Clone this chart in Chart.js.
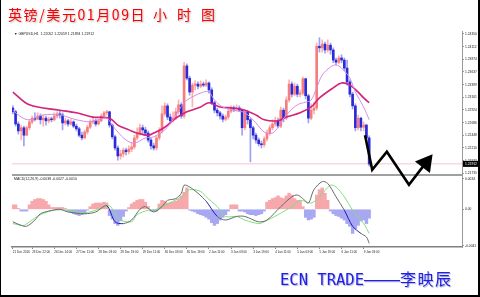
<!DOCTYPE html>
<html lang="zh-CN">
<head>
<meta charset="UTF-8" />
<title>英镑/美元01月09日小时图</title>
<script src="https://cdn.jsdelivr.net/npm/chart.js"></script>
<style>
    html, body { margin: 0; padding: 0; background: #fff; }
    #frame {
        position: relative;
        width: 480px;
        height: 297px;
        box-sizing: border-box;
        border-left: 1px solid #000;
        border-right: 2px solid #000;
        border-bottom: 2px solid #000;
        overflow: hidden;
        background: #fff;
    }
    #chart { position: absolute; left: 0; top: 0; }
    .title {
        position: absolute;
        top: 6px;
        font-family: "Noto Sans CJK SC";
        font-size: 14px;
        line-height: 17px;
        color: #ff0000;
        text-shadow: 1px 1px 2px #b8b8b8;
        white-space: nowrap;
    }
    #sign {
        position: absolute;
        left: 279px;
        top: 268px;
        line-height: 20px;
        color: #1e1ef0;
        text-shadow: 1px 1px 1px #b0b0c8;
        white-space: nowrap;
    }
    #sign .en { font-family: "DejaVu Sans Mono"; font-size: 15.5px; }
    #sign .dash { font-family: "Liberation Sans"; font-size: 18px; }
    #sign .cn { font-family: "Noto Sans CJK SC"; font-size: 16px; letter-spacing: 1.5px; }
</style>
</head>
<body>
<div id="frame">
    <canvas id="chart" width="477" height="295"></canvas>
    <div class="title" style="left:7px; letter-spacing:1.6px;">英镑/美元01月09日</div>
    <div class="title" style="left:152px; letter-spacing:10px;">小时图</div>
    <div id="sign"><span class="en">ECN TRADE</span><span class="dash">——</span><span class="cn">李映辰</span></div>
</div>

<script>
    // H1 candles (one slot = about 2 bars of the original)
    const candleOpen = [
        1.2296, 1.2289, 1.2266, 1.2253, 1.2259, 1.2245, 1.2259, 1.2270, 1.2277, 1.2275,
        1.2281, 1.2274, 1.2277, 1.2272, 1.2275, 1.2274, 1.2281, 1.2285, 1.2283, 1.2268,
        1.2272, 1.2266, 1.2270, 1.2262, 1.2257, 1.2245, 1.2240, 1.2251, 1.2260, 1.2270,
        1.2272, 1.2266, 1.2272, 1.2281, 1.2287, 1.2289, 1.2264, 1.2242, 1.2221, 1.2206,
        1.2210, 1.2217, 1.2214, 1.2219, 1.2223, 1.2240, 1.2249, 1.2259, 1.2255, 1.2249,
        1.2236, 1.2225, 1.2221, 1.2240, 1.2253, 1.2285, 1.2300, 1.2279, 1.2272, 1.2277,
        1.2289, 1.2302, 1.2281, 1.2375, 1.2352, 1.2326, 1.2339, 1.2341, 1.2337, 1.2341,
        1.2339, 1.2343, 1.2330, 1.2306, 1.2292, 1.2287, 1.2281, 1.2275, 1.2279, 1.2290,
        1.2296, 1.2294, 1.2296, 1.2292, 1.2259, 1.2289, 1.2274, 1.2259, 1.2245, 1.2236,
        1.2229, 1.2227, 1.2238, 1.2249, 1.2259, 1.2266, 1.2272, 1.2262, 1.2292, 1.2277,
        1.2311, 1.2341, 1.2322, 1.2337, 1.2322, 1.2324, 1.2351, 1.2319, 1.2277, 1.2292,
        1.2296, 1.2412, 1.2409, 1.2416, 1.2405, 1.2414, 1.2405, 1.2386, 1.2382, 1.2390,
        1.2386, 1.2371, 1.2345, 1.2322, 1.2300, 1.2259, 1.2277, 1.2260, 1.2264, 1.2240
    ];
    const candleHigh = [
        1.2300, 1.2292, 1.2270, 1.2264, 1.2262, 1.2262, 1.2274, 1.2281, 1.2287, 1.2287,
        1.2285, 1.2283, 1.2281, 1.2279, 1.2279, 1.2287, 1.2289, 1.2292, 1.2287, 1.2277,
        1.2275, 1.2275, 1.2272, 1.2266, 1.2260, 1.2251, 1.2255, 1.2264, 1.2274, 1.2277,
        1.2275, 1.2275, 1.2285, 1.2290, 1.2292, 1.2290, 1.2266, 1.2245, 1.2225, 1.2217,
        1.2221, 1.2221, 1.2225, 1.2232, 1.2245, 1.2259, 1.2266, 1.2264, 1.2260, 1.2253,
        1.2240, 1.2230, 1.2244, 1.2259, 1.2300, 1.2306, 1.2304, 1.2285, 1.2289, 1.2296,
        1.2311, 1.2306, 1.2382, 1.2379, 1.2356, 1.2343, 1.2347, 1.2345, 1.2347, 1.2345,
        1.2349, 1.2345, 1.2334, 1.2309, 1.2296, 1.2290, 1.2285, 1.2283, 1.2296, 1.2300,
        1.2300, 1.2302, 1.2300, 1.2294, 1.2292, 1.2292, 1.2277, 1.2262, 1.2249, 1.2240,
        1.2234, 1.2242, 1.2255, 1.2264, 1.2274, 1.2279, 1.2277, 1.2298, 1.2296, 1.2317,
        1.2349, 1.2345, 1.2343, 1.2341, 1.2330, 1.2354, 1.2352, 1.2322, 1.2304, 1.2307,
        1.2418, 1.2428, 1.2424, 1.2420, 1.2424, 1.2418, 1.2409, 1.2390, 1.2394, 1.2396,
        1.2390, 1.2386, 1.2349, 1.2326, 1.2304, 1.2283, 1.2279, 1.2270, 1.2266, 1.2244
    ];
    const candleLow = [
        1.2285, 1.2262, 1.2247, 1.2236, 1.2225, 1.2244, 1.2255, 1.2266, 1.2272, 1.2274,
        1.2266, 1.2262, 1.2264, 1.2268, 1.2270, 1.2272, 1.2277, 1.2277, 1.2255, 1.2264,
        1.2262, 1.2264, 1.2259, 1.2253, 1.2242, 1.2236, 1.2238, 1.2247, 1.2257, 1.2266,
        1.2262, 1.2264, 1.2270, 1.2277, 1.2283, 1.2260, 1.2238, 1.2217, 1.2198, 1.2200,
        1.2204, 1.2208, 1.2210, 1.2214, 1.2219, 1.2236, 1.2245, 1.2249, 1.2244, 1.2232,
        1.2219, 1.2217, 1.2217, 1.2236, 1.2249, 1.2281, 1.2274, 1.2266, 1.2270, 1.2274,
        1.2285, 1.2277, 1.2277, 1.2349, 1.2320, 1.2298, 1.2330, 1.2332, 1.2334, 1.2336,
        1.2336, 1.2324, 1.2302, 1.2287, 1.2281, 1.2275, 1.2270, 1.2272, 1.2275, 1.2287,
        1.2289, 1.2290, 1.2289, 1.2245, 1.2255, 1.2266, 1.2195, 1.2238, 1.2230, 1.2225,
        1.2221, 1.2223, 1.2234, 1.2245, 1.2255, 1.2262, 1.2259, 1.2259, 1.2270, 1.2274,
        1.2307, 1.2317, 1.2319, 1.2317, 1.2317, 1.2320, 1.2313, 1.2268, 1.2274, 1.2285,
        1.2292, 1.2401, 1.2401, 1.2399, 1.2401, 1.2397, 1.2381, 1.2377, 1.2379, 1.2381,
        1.2366, 1.2339, 1.2317, 1.2294, 1.2253, 1.2255, 1.2253, 1.2253, 1.2234, 1.2187
    ];
    const candleClose = [
        1.2289, 1.2266, 1.2253, 1.2259, 1.2245, 1.2259, 1.2270, 1.2277, 1.2275, 1.2281,
        1.2274, 1.2277, 1.2272, 1.2275, 1.2274, 1.2281, 1.2285, 1.2283, 1.2268, 1.2272,
        1.2266, 1.2270, 1.2262, 1.2257, 1.2245, 1.2240, 1.2251, 1.2260, 1.2270, 1.2272,
        1.2266, 1.2272, 1.2281, 1.2287, 1.2289, 1.2264, 1.2242, 1.2221, 1.2206, 1.2210,
        1.2217, 1.2214, 1.2219, 1.2223, 1.2240, 1.2249, 1.2259, 1.2255, 1.2249, 1.2236,
        1.2225, 1.2221, 1.2240, 1.2253, 1.2285, 1.2300, 1.2279, 1.2272, 1.2277, 1.2289,
        1.2302, 1.2281, 1.2375, 1.2352, 1.2326, 1.2339, 1.2341, 1.2337, 1.2341, 1.2339,
        1.2343, 1.2330, 1.2306, 1.2292, 1.2287, 1.2281, 1.2275, 1.2279, 1.2290, 1.2296,
        1.2294, 1.2296, 1.2292, 1.2259, 1.2289, 1.2274, 1.2259, 1.2245, 1.2236, 1.2229,
        1.2227, 1.2238, 1.2249, 1.2259, 1.2266, 1.2272, 1.2262, 1.2292, 1.2277, 1.2311,
        1.2341, 1.2322, 1.2337, 1.2322, 1.2324, 1.2351, 1.2319, 1.2277, 1.2292, 1.2296,
        1.2412, 1.2409, 1.2416, 1.2405, 1.2414, 1.2405, 1.2386, 1.2382, 1.2390, 1.2386,
        1.2371, 1.2345, 1.2322, 1.2300, 1.2259, 1.2277, 1.2260, 1.2264, 1.2240, 1.2191
    ];
    const lastPrice = 1.21912;

    // moving averages, sampled along the curves (slot index / price)
    const maFastIdx = [0, 3, 6, 11, 17, 21, 23, 28, 31, 34, 36, 38, 41, 44, 48, 51, 55, 58, 62, 65, 69, 71,
        73, 76, 80, 84, 88, 91, 94, 96, 99, 103, 106, 108, 110, 112, 115, 117, 119, 122, 124, 127, 129];
    const maFast = [1.2292, 1.2279, 1.2274, 1.2283, 1.2283, 1.2277, 1.2274, 1.2270, 1.2274, 1.2277, 1.2264,
        1.2251, 1.2236, 1.2230, 1.2240, 1.2242, 1.2255, 1.2274, 1.2306, 1.2317, 1.2326, 1.2326, 1.2311,
        1.2298, 1.2292, 1.2287, 1.2268, 1.2251, 1.2249, 1.2260, 1.2283, 1.2302, 1.2307, 1.2311, 1.2334,
        1.2358, 1.2373, 1.2377, 1.2371, 1.2352, 1.2326, 1.2298, 1.2274];
    const maSlowIdx = [0, 6, 17, 23, 29, 35, 38, 42, 45, 49, 51, 55, 59, 63, 68, 71, 75, 80, 84, 88, 91, 96,
        99, 104, 108, 111, 116, 119, 122, 125, 127, 129];
    const maSlow = [1.2326, 1.2302, 1.2292, 1.2287, 1.2279, 1.2277, 1.2264, 1.2255, 1.2249, 1.2245, 1.2249,
        1.2260, 1.2277, 1.2289, 1.2298, 1.2306, 1.2298, 1.2296, 1.2292, 1.2283, 1.2274, 1.2272, 1.2279,
        1.2287, 1.2298, 1.2315, 1.2334, 1.2343, 1.2339, 1.2326, 1.2315, 1.2306];

    // MACD(12,26,9) panel
    const macdHist = [
        0.0005, 0.0005, 0.0001, -0.0002, -0.0002, -0.0002, 0.0005, 0.0009, 0.0011, 0.0012,
        0.0012, 0.0011, 0.0009, 0.0005, 0.0002, 0.0002, 0.0002, 0.0002, 0.0002, 0.0001,
        -0.0002, -0.0003, -0.0005, -0.0006, -0.0007, -0.0006, -0.0005, -0.0001, 0.0003, 0.0006,
        0.0007, 0.0007, 0.0007, 0.0008, 0.0007, -0.0007, -0.0011, -0.0016, -0.0018, -0.0013,
        -0.0008, -0.0002, 0.0002, 0.0006, 0.0008, 0.0010, 0.0011, 0.0011, 0.0008, 0.0003,
        -0.0002, -0.0002, -0.0002, 0.0006, 0.0010, 0.0009, 0.0007, 0.0007, 0.0008, 0.0009,
        0.0011, 0.0015, 0.0019, 0.0024, -0.0001, -0.0002, -0.0003, -0.0005, -0.0006, -0.0007,
        -0.0009, -0.0011, -0.0015, -0.0018, -0.0016, -0.0012, -0.0009, -0.0006, -0.0002, 0.0005,
        0.0005, 0.0005, -0.0002, -0.0002, -0.0003, -0.0005, -0.0006, -0.0006, -0.0007, -0.0006,
        -0.0005, -0.0002, 0.0008, 0.0010, 0.0012, 0.0013, 0.0015, 0.0013, 0.0012, 0.0015,
        0.0018, 0.0016, 0.0012, 0.0010, 0.0009, 0.0003, -0.0009, -0.0012, -0.0011, -0.0009,
        0.0016, 0.0022, 0.0024, 0.0018, 0.0010, -0.0002, -0.0005, -0.0007, -0.0008, -0.0010,
        -0.0012, -0.0016, -0.0019, -0.0027, -0.0022, -0.0018, -0.0013, -0.0012, -0.0016, -0.0010
    ];
    const macdIdx = [0, 3, 5, 8, 10, 13, 17, 20, 26, 30, 34, 37, 40, 43, 46, 48, 51, 54, 56, 59, 61, 62, 64,
        67, 70, 74, 77, 81, 84, 89, 92, 97, 101, 103, 105, 107, 109, 112, 114, 117, 120, 123, 126, 128, 129];
    const macdMain = [-0.0014, -0.0018, -0.0019, -0.0012, -0.0005, -0.0002, 0.0000, -0.0003, -0.0005, -0.0003,
        0.0004, -0.0014, -0.0016, -0.0012, 0.0000, 0.0003, -0.0003, 0.0003, 0.0010, 0.0012, 0.0018, 0.0027,
        0.0025, 0.0018, 0.0009, -0.0008, -0.0012, -0.0008, -0.0008, -0.0014, -0.0012, 0.0003, 0.0014, 0.0016,
        0.0012, 0.0007, 0.0022, 0.0031, 0.0029, 0.0014, -0.0001, -0.0019, -0.0027, -0.0031, -0.0038];
    const macdFallRanges = [[34, 40], [70, 74], [120, 126]];
    const signalIdx = [0, 4, 6, 10, 15, 20, 26, 32, 35, 37, 39, 43, 45, 49, 51, 54, 58, 61, 64, 68, 70, 74,
        77, 81, 84, 89, 91, 96, 101, 104, 108, 111, 115, 117, 120, 123, 127, 129];
    const macdSignal = [-0.0016, -0.0018, -0.0014, -0.0006, -0.0001, -0.0001, -0.0004, 0.0001, 0.0004, -0.0005,
        -0.0012, -0.0014, -0.0006, -0.0001, -0.0001, 0.0003, 0.0009, 0.0014, 0.0022, 0.0020, 0.0014, 0.0003,
        -0.0008, -0.0008, -0.0012, -0.0016, -0.0014, -0.0006, 0.0003, 0.0010, 0.0007, 0.0014, 0.0027, 0.0025,
        0.0014, -0.0001, -0.0016, -0.0027];

    // hand-drawn forecast zigzag (slot index / price)
    const zigIdx = [127.5, 130.1, 135.4, 143.4, 149.5];
    const zigPrice = [1.2245, 1.2180, 1.2214, 1.2152, 1.2193];

    // axes
    const priceTicks = [1.24350, 1.24112, 1.23874, 1.23637, 1.23399, 1.23161, 1.22924, 1.22686, 1.22448, 1.22210, 1.21973, 1.21735];
    const macdTicks = [0.0034, 0, -0.0041];
    const macdTickLabels = ['0.0034', '0.00', '-0.0041'];
    const timeTickIdx = [0, 7, 15, 23, 31, 39, 47, 55, 63, 71, 79, 87, 95, 103, 111, 119, 127];
    const timeTickLabels = ['21 Dec 2016', '23 Dec 22:00', '26 Dec 14:00', '27 Dec 11:00', '28 Dec 03:00',
        '28 Dec 19:00', '29 Dec 11:00', '30 Dec 03:00', '30 Dec 19:00', '2 Jan 11:00', '3 Jan 03:00',
        '3 Jan 19:00', '4 Jan 11:00', '5 Jan 03:00', '5 Jan 19:00', '6 Jan 11:00', '9 Jan 03:00'];

    const headerText = '▼ GBPUSD,H1  1.22052 1.22059 1.21894 1.21912';
    const macdText = 'MACD(12,26,9) -0.0038 -0.0027 -0.0010';

    const X_MIN = -0.3, X_MAX = 162.6;
    const tinyFont = { family: 'Liberation Sans', size: 3.3 };
    const timeFont = { family: 'Liberation Sans', size: 3 };
    const isUp = candleClose.map((c, i) => c >= candleOpen[i]);
    const pts = (xs, ys) => xs.map((x, k) => ({ x: x, y: ys[k] }));

    // separator between panels, header texts and the last-price box
    const mt4Frame = {
        id: 'mt4Frame',
        beforeDatasetsDraw(chart) {
            const { ctx, chartArea, scales } = chart;
            ctx.save();
            ctx.strokeStyle = '#808080';
            ctx.lineWidth = 1.5;
            ctx.beginPath();
            ctx.moveTo(chartArea.left, scales.yMacd.top);
            ctx.lineTo(chartArea.right, scales.yMacd.top);
            ctx.stroke();
            ctx.restore();
        },
        afterDraw(chart) {
            const { ctx, chartArea, scales } = chart;
            ctx.save();
            ctx.font = '3.5px "Liberation Sans"';
            ctx.fillStyle = '#222';
            ctx.textBaseline = 'middle';
            ctx.fillText(headerText, chartArea.left + 2, scales.yPrice.top + 3);
            ctx.fillText(macdText, chartArea.left + 2, scales.yMacd.top + 4.5);
            const y = scales.yPrice.getPixelForValue(lastPrice);
            ctx.fillStyle = '#000';
            ctx.fillRect(chartArea.right + 1, y - 3, chart.width - chartArea.right - 1, 6);
            ctx.fillStyle = '#fff';
            ctx.font = '3.3px "Liberation Sans"';
            ctx.fillText(lastPrice.toFixed(5), chartArea.right + 3, y);
            ctx.restore();
        }
    };

    const ctx = document.getElementById('chart').getContext('2d');
    new Chart(ctx, {
        type: 'bar',
        data: {
            datasets: [
                {
                    type: 'line',
                    data: [{ x: X_MIN, y: lastPrice }, { x: X_MAX, y: lastPrice }],
                    yAxisID: 'yPrice',
                    borderColor: '#f5c4d4',
                    borderWidth: 1,
                    pointRadius: 0,
                    order: 9
                },
                {
                    data: candleLow.map((l, i) => ({ x: i, y: [l, candleHigh[i]] })),
                    yAxisID: 'yPrice',
                    backgroundColor: c => isUp[c.dataIndex] ? '#fbb2b2' : '#a0a0f0',
                    barThickness: 1,
                    grouped: false,
                    order: 8
                },
                {
                    data: candleOpen.map((o, i) => ({ x: i, y: [o, candleClose[i]] })),
                    yAxisID: 'yPrice',
                    backgroundColor: c => isUp[c.dataIndex] ? '#f77c7c' : '#2a2ad8',
                    barThickness: 2,
                    minBarLength: 1,
                    grouped: false,
                    order: 7
                },
                {
                    type: 'line',
                    data: pts(maSlowIdx, maSlow),
                    yAxisID: 'yPrice',
                    borderColor: '#d3237a',
                    borderWidth: 1.6,
                    pointRadius: 0,
                    tension: 0.35,
                    order: 5
                },
                {
                    type: 'line',
                    data: pts(maFastIdx, maFast),
                    yAxisID: 'yPrice',
                    borderColor: '#d48ce8',
                    borderWidth: 1,
                    pointRadius: 0,
                    tension: 0.35,
                    order: 4
                },
                {
                    data: macdHist.map((v, i) => ({ x: i, y: v })),
                    yAxisID: 'yMacd',
                    backgroundColor: macdHist.map(v => v >= 0 ? '#f6a8ac' : '#a8a8f2'),
                    barPercentage: 1,
                    categoryPercentage: 1,
                    grouped: false,
                    order: 6
                },
                {
                    type: 'line',
                    data: pts(signalIdx, macdSignal),
                    yAxisID: 'yMacd',
                    borderColor: '#7ee07e',
                    borderWidth: 1,
                    pointRadius: 0,
                    tension: 0.3,
                    order: 3
                },
                {
                    type: 'line',
                    data: pts(macdIdx, macdMain),
                    yAxisID: 'yMacd',
                    borderColor: '#6a6a6a',
                    borderWidth: 1,
                    pointRadius: 0,
                    tension: 0.3,
                    segment: {
                        borderColor: c => macdFallRanges.some(r => c.p0.parsed.x >= r[0] && c.p1.parsed.x <= r[1]) ? '#1d1db4' : undefined
                    },
                    order: 2
                },
                {
                    type: 'line',
                    data: pts(zigIdx, zigPrice),
                    yAxisID: 'yPrice',
                    borderColor: '#000',
                    borderWidth: 2.6,
                    tension: 0,
                    clip: false,
                    pointStyle: 'triangle',
                    pointRotation: 38,
                    pointRadius: c => c.dataIndex === zigIdx.length - 1 ? 11 : 0,
                    pointBackgroundColor: '#000',
                    pointBorderWidth: 0,
                    order: -1
                }
            ]
        },
        options: {
            responsive: false,
            animation: false,
            devicePixelRatio: 1,
            events: [],
            layout: { padding: { top: 31, left: 0, right: 0, bottom: 40 } },
            plugins: { legend: { display: false }, tooltip: { enabled: false } },
            scales: {
                x: {
                    type: 'linear',
                    min: X_MIN,
                    max: X_MAX,
                    offset: false,
                    afterBuildTicks: s => { s.ticks = timeTickIdx.map(v => ({ value: v })); },
                    afterFit: s => { s.height = 8; },
                    ticks: {
                        callback: (v, i) => timeTickLabels[i],
                        autoSkip: false,
                        maxRotation: 0,
                        align: 'start',
                        padding: 1,
                        color: '#222',
                        font: timeFont
                    },
                    grid: { offset: false, drawOnChartArea: false, tickLength: 2, color: '#888' },
                    border: { display: true, color: '#808080', width: 1.5 }
                },
                yPrice: {
                    type: 'linear',
                    position: 'right',
                    stack: 'panels',
                    stackWeight: 2,
                    min: 1.21703,
                    max: 1.24406,
                    beginAtZero: false,
                    afterBuildTicks: s => { s.ticks = priceTicks.map(v => ({ value: v })); },
                    afterFit: s => { s.width = 16; },
                    ticks: {
                        callback: v => v.toFixed(5),
                        autoSkip: false,
                        padding: 1,
                        color: '#222',
                        font: tinyFont
                    },
                    grid: { drawOnChartArea: false, tickLength: 2, color: '#999' },
                    border: { display: true, color: '#999', width: 1 }
                },
                yMacd: {
                    type: 'linear',
                    position: 'right',
                    stack: 'panels',
                    stackWeight: 1,
                    min: -0.00422,
                    max: 0.00384,
                    beginAtZero: false,
                    afterBuildTicks: s => { s.ticks = macdTicks.map(v => ({ value: v })); },
                    afterFit: s => { s.width = 16; },
                    ticks: {
                        callback: (v, i) => macdTickLabels[i],
                        autoSkip: false,
                        padding: 1,
                        color: '#222',
                        font: tinyFont
                    },
                    grid: { drawOnChartArea: false, tickLength: 2, color: '#999' },
                    border: { display: true, color: '#999', width: 1 }
                }
            }
        },
        plugins: [mt4Frame]
    });
</script>
</body>
</html>
